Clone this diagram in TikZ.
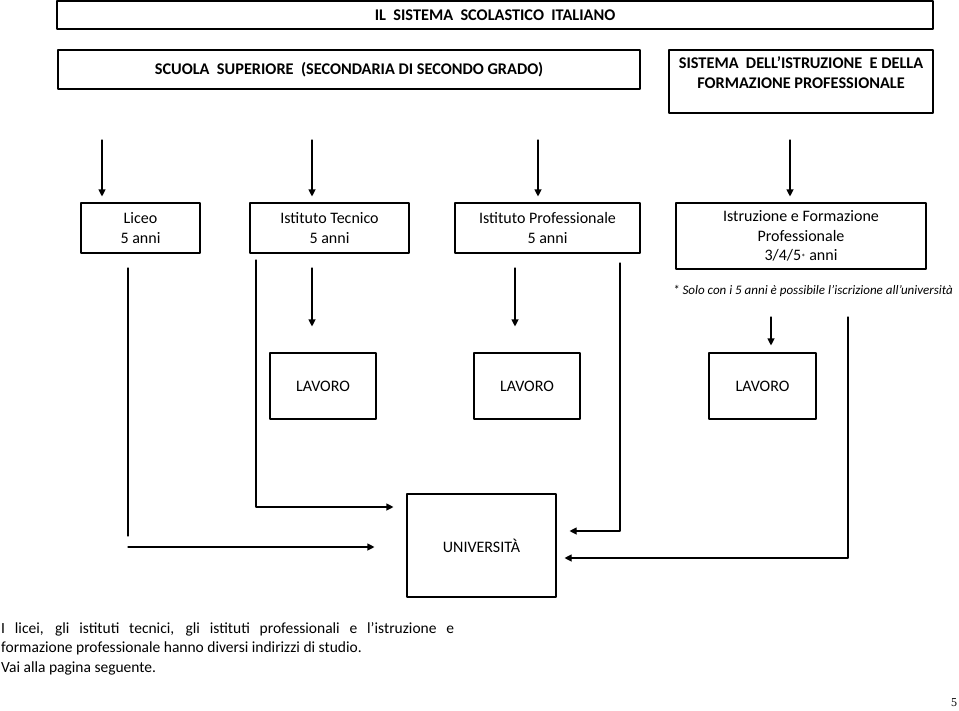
\documentclass[tikz,border=0pt]{standalone}
\usepackage{fontspec}
\setmainfont{Carlito}
\newfontfamily\pagefont{Liberation Serif}
\usetikzlibrary{arrows.meta}

\tikzset{
  box/.style={draw, line width=1.1pt, inner sep=0pt, align=center, font=\fontsize{16}{19.5}\selectfont},
  headbox/.style={box, font=\fontsize{16.3}{20}\selectfont\bfseries},
  link/.style={line width=1.1pt},
}

\begin{document}
\begin{tikzpicture}[line cap=round,line join=round,>={Triangle[length=7pt,width=7pt]},x=1pt,y=-1pt]
\useasboundingbox (0,0) rectangle (959,710);
% titoli
\node[headbox, minimum width=876pt, minimum height=28pt] (titolo) at (495,15) {IL\ \ SISTEMA\ \ SCOLASTICO\ \ ITALIANO};
\node[headbox, minimum width=582pt, minimum height=39pt] (superiore) at (349,69.5) {SCUOLA\ \ SUPERIORE\ \ (SECONDARIA DI SECONDO GRADO)};
\node[headbox, minimum width=264pt, minimum height=63pt,
  label={[headbox, draw=none, anchor=north, yshift=-7pt]north:SISTEMA\ \ DELL’ISTRUZIONE\ \ E DELLA\\FORMAZIONE PROFESSIONALE}] (sistema) at (801,81.5) {};
% scuole
\node[box, minimum width=119pt, minimum height=50pt] (liceo) at (140.5,228) {Liceo\\5 anni};
\node[box, minimum width=159pt, minimum height=50pt] (tecnico) at (329.5,228) {Istituto Tecnico\\5 anni};
\node[box, minimum width=185pt, minimum height=50pt] (profess) at (547.5,228) {Istituto Professionale\\5 anni};
\node[box, minimum width=250pt, minimum height=66pt] (iefp) at (801,236) {Istruzione e Formazione\\Professionale\\3/4/5{\small*} anni};
\node[font=\fontsize{13}{15}\selectfont\itshape, inner sep=0pt] (nota) at (813,291) {* Solo con i 5 anni è possibile l’iscrizione all’università};
% sbocchi
\node[box, minimum width=106pt, minimum height=66pt] (lavoro1) at (323,386) {LAVORO};
\node[box, minimum width=106pt, minimum height=66pt] (lavoro2) at (527,386) {LAVORO};
\node[box, minimum width=107pt, minimum height=66pt] (lavoro3) at (762.5,386) {LAVORO};
\node[box, minimum width=149pt, minimum height=103pt] (univ) at (481.5,545.5) {UNIVERSITÀ};
% ingressi
\coordinate (liceo-in) at (102,140);
\coordinate (tecnico-in) at (312,140);
\coordinate (profess-in) at (538,140);
\coordinate (iefp-in) at (790,140);
\draw[link,->,shorten >=6pt] (liceo-in) -- (liceo-in |- liceo.north);
\draw[link,->,shorten >=6pt] (tecnico-in) -- (tecnico-in |- tecnico.north);
\draw[link,->,shorten >=6pt] (profess-in) -- (profess-in |- profess.north);
\draw[link,->,shorten >=6pt] (iefp-in) -- (iefp-in |- iefp.north);
% verso il lavoro
\coordinate (tecnico-lav) at (312,268);
\coordinate (profess-lav) at (515,268);
\coordinate (iefp-lav) at (771,317);
\draw[link,->,shorten >=26pt] (tecnico-lav) -- (tecnico-lav |- lavoro1.north);
\draw[link,->,shorten >=26pt] (profess-lav) -- (profess-lav |- lavoro2.north);
\draw[link,->,shorten >=7pt] (iefp-lav) -- (iefp-lav |- lavoro3.north);
% verso l'universita
\coordinate (liceo-out) at (128,268);
\coordinate (liceo-bend) at (128,536);
\coordinate (liceo-go) at (128,547);
\draw[link] (liceo-out) -- (liceo-bend);
\draw[link,->,shorten >=32pt] (liceo-go) -- (liceo-go -| univ.west);
\coordinate (tecnico-out) at (256,260);
\coordinate (tecnico-bend) at (256,507);
\draw[link,->,shorten >=13pt] (tecnico-out) -- (tecnico-bend) -- (tecnico-bend -| univ.west);
\coordinate (profess-out) at (620,263);
\coordinate (profess-bend) at (620,531);
\draw[link,->,shorten >=13pt] (profess-out) -- (profess-bend) -- (profess-bend -| univ.east);
\coordinate (iefp-out) at (848,317);
\coordinate (iefp-bend) at (848,558);
\draw[link,->,shorten >=8pt] (iefp-out) -- (iefp-bend) -- (iefp-bend -| univ.east);
% testo in basso
\node[anchor=north west, inner sep=0pt, text width=453pt, align=justify, font=\fontsize{15.5}{19.5}\selectfont] (testo) at (1,622)
  {I licei, gli istituti tecnici, gli istituti professionali e l’istruzione e\linebreak formazione professionale hanno diversi indirizzi di studio.\\Vai alla pagina seguente.};
\node[font=\pagefont\fontsize{12}{14}\selectfont, inner sep=0pt] (pagina) at (954,703) {5};
\end{tikzpicture}
\end{document}
